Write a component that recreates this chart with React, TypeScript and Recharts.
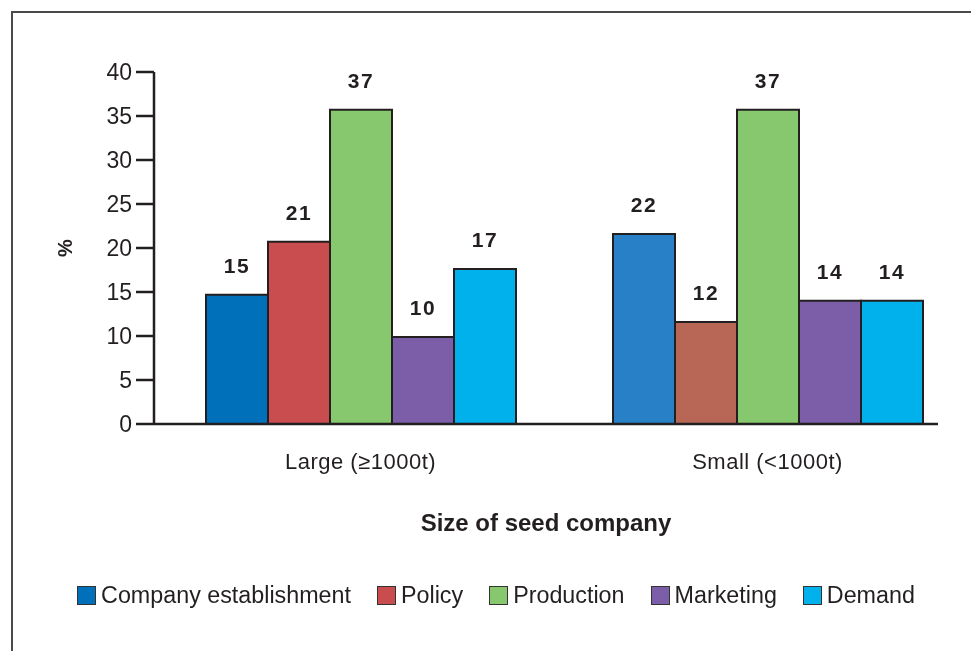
import { BarChart, Bar, XAxis, YAxis, Legend, LabelList, Cell, Label } from 'recharts';

const categories = ['Large (≥1000t)', 'Small (<1000t)'];

// bar heights as drawn, and the figures printed above them
const establishment = [14.7, 21.6];
const policy = [20.7, 11.6];
const production = [35.7, 35.7];
const marketing = [9.9, 14.0];
const demand = [17.6, 14.0];

const establishmentLabels = [15, 22];
const policyLabels = [21, 12];
const productionLabels = [37, 37];
const marketingLabels = [10, 14];
const demandLabels = [17, 14];

const yTicks = [0, 5, 10, 15, 20, 25, 30, 35, 40];

const data = categories.map((name, i) => ({
  name,
  establishment: establishment[i],
  policy: policy[i],
  production: production[i],
  marketing: marketing[i],
  demand: demand[i],
  establishmentLabel: establishmentLabels[i],
  policyLabel: policyLabels[i],
  productionLabel: productionLabels[i],
  marketingLabel: marketingLabels[i],
  demandLabel: demandLabels[i],
}));

const series = [
  { key: 'establishment', name: 'Company establishment', colors: ['#0070ba', '#2880c6'] },
  { key: 'policy', name: 'Policy', colors: ['#c94d4f', '#b86756'] },
  { key: 'production', name: 'Production', colors: ['#87c86f', '#87c86f'] },
  { key: 'marketing', name: 'Marketing', colors: ['#7b5ea7', '#7b5ea7'] },
  { key: 'demand', name: 'Demand', colors: ['#00b1ec', '#00b1ec'] },
];

const FONT = '"Liberation Sans", Arial, sans-serif';
const INK = '#231f20';

function LegendBox() {
  return (
    <div
      style={{
        display: 'flex',
        justifyContent: 'center',
        whiteSpace: 'nowrap',
        position: 'relative',
        left: 26,
        fontFamily: FONT,
        fontSize: 23.3,
        color: INK,
      }}
    >
      {series.map((s) => (
        <div key={s.key} style={{ display: 'flex', alignItems: 'center', flexShrink: 0, marginRight: 26 }}>
          <span style={{ width: 17, height: 17, background: s.colors[0], border: '1.5px solid #333', marginRight: 5 }} />
          <span>{s.name}</span>
        </div>
      ))}
    </div>
  );
}

export default function App() {
  return (
    <div style={{ position: 'relative', width: 963, height: 635, background: '#fff' }}>
      {/* page frame: only top and left edges are inside the picture */}
      <div
        style={{
          position: 'fixed',
          left: 11,
          top: 11,
          width: 1000,
          height: 700,
          borderTop: '2px solid #4a4a4a',
          borderLeft: '2px solid #4a4a4a',
        }}
      />
      <BarChart
        width={963}
        height={635}
        data={data}
        margin={{ top: 64, right: 33, left: 20, bottom: 34 }}
        barGap={0}
        barSize={62}
        style={{ position: 'absolute', left: 0, top: 0, fontFamily: FONT }}
      >
        <XAxis
          dataKey="name"
          padding={{ left: 3, right: -33 }}
          tickLine={false}
          tickSize={0}
          tickMargin={29}
          height={158}
          stroke={INK}
          strokeWidth={2.5}
          tick={{ fill: INK, fontSize: 22, letterSpacing: 0.5 }}
        >
          <Label value="Size of seed company" position="insideTop" offset={90} style={{ fill: INK, fontSize: 24, fontWeight: 700 }} />
        </XAxis>
        <YAxis
          domain={[0, 40]}
          ticks={yTicks}
          width={126}
          tickSize={18}
          tickMargin={4}
          stroke={INK}
          strokeWidth={2.5}
          tick={{ fill: INK, fontSize: 23 }}
          label={{
            content: () => (
              <text x={57} y={240} transform="rotate(-90 57 240)" textAnchor="middle" dominantBaseline="central" fill={INK} fontSize={20} fontWeight={700}>
                %
              </text>
            ),
          }}
        />
        <Legend verticalAlign="bottom" content={() => <LegendBox />} />
        {series.map((s) => (
          <Bar key={s.key} dataKey={s.key} name={s.name} fill={s.colors[0]} stroke="#231f20" strokeWidth={2} isAnimationActive={false}>
            {data.map((_, i) => (
              <Cell key={i} fill={s.colors[i]} />
            ))}
            <LabelList dataKey={`${s.key}Label`} position="top" offset={22} style={{ fill: INK, fontSize: 21, fontWeight: 700, letterSpacing: 1.5 }} />
          </Bar>
        ))}
      </BarChart>
    </div>
  );
}
